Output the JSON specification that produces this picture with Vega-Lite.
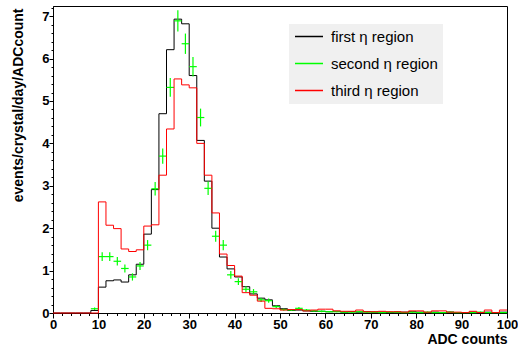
{
  "$schema": "https://vega.github.io/schema/vega-lite/v6.json",
  "width": 454,
  "height": 307,
  "autosize": {"type": "none"},
  "padding": {"left": 53, "top": 6, "right": 11, "bottom": 34},
  "background": "white",
  "config": {"view": {"stroke": "black", "strokeWidth": 1}, "font": "Liberation Sans"},
  "resolve": {"axis": {"x": "independent", "y": "independent"}},
  "datasets": {
    "black": [
      {"x":0,"y":0},{"x":1.667,"y":0},{"x":3.333,"y":0},{"x":5,"y":0},{"x":6.667,"y":0},{"x":8.333,"y":0.06},
      {"x":10,"y":0.61},{"x":11.667,"y":0.76},{"x":13.333,"y":0.78},{"x":15,"y":0.73},{"x":16.667,"y":0.90},{"x":18.333,"y":1.15},
      {"x":20,"y":1.86},{"x":21.667,"y":2.91},{"x":23.333,"y":4.70},{"x":25,"y":6.21},{"x":26.667,"y":6.93},{"x":28.333,"y":6.82},
      {"x":30,"y":5.60},{"x":31.667,"y":4.07},{"x":33.333,"y":3.11},{"x":35,"y":2.00},{"x":36.667,"y":1.32},{"x":38.333,"y":1.04},
      {"x":40,"y":0.85},{"x":41.667,"y":0.62},{"x":43.333,"y":0.45},{"x":45,"y":0.35},{"x":46.667,"y":0.31},{"x":48.333,"y":0.17},
      {"x":50,"y":0.10},{"x":51.667,"y":0.06},{"x":53.333,"y":0.07},{"x":55,"y":0.05},{"x":56.667,"y":0.04},{"x":58.333,"y":0.04},
      {"x":60,"y":0.03},{"x":61.667,"y":0.04},{"x":63.333,"y":0.02},{"x":65,"y":0.03},{"x":66.667,"y":0.02},{"x":68.333,"y":0.03},
      {"x":70,"y":0.02},{"x":71.667,"y":0.02},{"x":73.333,"y":0.01},{"x":75,"y":0.02},{"x":76.667,"y":0.02},{"x":78.333,"y":0.03},
      {"x":80,"y":0.02},{"x":81.667,"y":0.01},{"x":83.333,"y":0.02},{"x":85,"y":0.01},{"x":86.667,"y":0.02},{"x":88.333,"y":0.01},
      {"x":90,"y":0.01},{"x":91.667,"y":0.02},{"x":93.333,"y":0.01},{"x":95,"y":0.02},{"x":96.667,"y":0.01},{"x":98.333,"y":0.02},
      {"x":100,"y":0.02}
    ],
    "red": [
      {"x":0,"y":0},{"x":1.667,"y":0},{"x":3.333,"y":0},{"x":5,"y":0},{"x":6.667,"y":0},{"x":8.333,"y":0},
      {"x":10,"y":2.62},{"x":11.667,"y":2.07},{"x":13.333,"y":1.99},{"x":15,"y":1.51},{"x":16.667,"y":1.45},{"x":18.333,"y":1.49},
      {"x":20,"y":2.05},{"x":21.667,"y":2.08},{"x":23.333,"y":3.25},{"x":25,"y":4.34},{"x":26.667,"y":5.52},{"x":28.333,"y":5.38},
      {"x":30,"y":5.31},{"x":31.667,"y":4.00},{"x":33.333,"y":3.25},{"x":35,"y":2.36},{"x":36.667,"y":1.39},{"x":38.333,"y":1.12},
      {"x":40,"y":0.87},{"x":41.667,"y":0.48},{"x":43.333,"y":0.42},{"x":45,"y":0.28},{"x":46.667,"y":0.11},{"x":48.333,"y":0.10},
      {"x":50,"y":0.07},{"x":51.667,"y":0.08},{"x":53.333,"y":0.08},{"x":55,"y":0.05},{"x":56.667,"y":0.07},{"x":58.333,"y":0.09},
      {"x":60,"y":0.09},{"x":61.667,"y":0.05},{"x":63.333,"y":0.04},{"x":65,"y":0.04},{"x":66.667,"y":0.07},{"x":68.333,"y":0.03},
      {"x":70,"y":0.03},{"x":71.667,"y":0.04},{"x":73.333,"y":0.03},{"x":75,"y":0.03},{"x":76.667,"y":0.02},{"x":78.333,"y":0.05},
      {"x":80,"y":0.05},{"x":81.667,"y":0.02},{"x":83.333,"y":0.05},{"x":85,"y":0.05},{"x":86.667,"y":0.02},{"x":88.333,"y":0.02},
      {"x":90,"y":0.01},{"x":91.667,"y":0.04},{"x":93.333,"y":0.01},{"x":95,"y":0.07},{"x":96.667,"y":0.01},{"x":98.333,"y":0.07},
      {"x":100,"y":0.07}
    ],
    "green": [
      {"x0":8.333,"x1":10,"xc":9.167,"y":0.10,"err":0.03},
      {"x0":10,"x1":11.667,"xc":10.833,"y":1.33,"err":0.105},
      {"x0":11.667,"x1":13.333,"xc":12.5,"y":1.33,"err":0.105},
      {"x0":13.333,"x1":15,"xc":14.167,"y":1.22,"err":0.1},
      {"x0":15,"x1":16.667,"xc":15.833,"y":1.05,"err":0.095},
      {"x0":16.667,"x1":18.333,"xc":17.5,"y":0.85,"err":0.085},
      {"x0":18.333,"x1":20,"xc":19.167,"y":1.11,"err":0.095},
      {"x0":20,"x1":21.667,"xc":20.833,"y":1.60,"err":0.12},
      {"x0":21.667,"x1":23.333,"xc":22.5,"y":2.93,"err":0.16},
      {"x0":23.333,"x1":25,"xc":24.167,"y":3.70,"err":0.18},
      {"x0":25,"x1":26.667,"xc":25.833,"y":5.32,"err":0.22},
      {"x0":26.667,"x1":28.333,"xc":27.5,"y":6.89,"err":0.25},
      {"x0":28.333,"x1":30,"xc":29.167,"y":6.35,"err":0.24},
      {"x0":30,"x1":31.667,"xc":30.833,"y":5.81,"err":0.23},
      {"x0":31.667,"x1":33.333,"xc":32.5,"y":4.61,"err":0.21},
      {"x0":33.333,"x1":35,"xc":34.167,"y":2.94,"err":0.16},
      {"x0":35,"x1":36.667,"xc":35.833,"y":1.81,"err":0.13},
      {"x0":36.667,"x1":38.333,"xc":37.5,"y":1.60,"err":0.12},
      {"x0":38.333,"x1":40,"xc":39.167,"y":0.90,"err":0.09},
      {"x0":40,"x1":41.667,"xc":40.833,"y":0.74,"err":0.08},
      {"x0":41.667,"x1":43.333,"xc":42.5,"y":0.56,"err":0.07},
      {"x0":43.333,"x1":45,"xc":44.167,"y":0.50,"err":0.065},
      {"x0":45,"x1":46.667,"xc":45.833,"y":0.31,"err":0.05},
      {"x0":46.667,"x1":48.333,"xc":47.5,"y":0.29,"err":0.05},
      {"x0":48.333,"x1":50,"xc":49.167,"y":0.15,"err":0.035},
      {"x0":50,"x1":51.667,"xc":50.833,"y":0.08,"err":0.025},
      {"x0":51.667,"x1":53.333,"xc":52.5,"y":0.07,"err":0.025},
      {"x0":53.333,"x1":55,"xc":54.167,"y":0.11,"err":0.03},
      {"x0":55,"x1":56.667,"xc":55.833,"y":0.07,"err":0.025},
      {"x0":56.667,"x1":58.333,"xc":57.5,"y":0.05,"err":0.02},
      {"x0":58.333,"x1":60,"xc":59.167,"y":0.04,"err":0.02},
      {"x0":60,"x1":61.667,"xc":60.833,"y":0.03,"err":0.015},
      {"x0":61.667,"x1":63.333,"xc":62.5,"y":0.03,"err":0.015},
      {"x0":63.333,"x1":65,"xc":64.167,"y":0.02,"err":0.015},
      {"x0":65,"x1":66.667,"xc":65.833,"y":0.02,"err":0.015},
      {"x0":66.667,"x1":68.333,"xc":67.5,"y":0.03,"err":0.015},
      {"x0":68.333,"x1":70,"xc":69.167,"y":0.02,"err":0.015},
      {"x0":70,"x1":71.667,"xc":70.833,"y":0.02,"err":0.015},
      {"x0":71.667,"x1":73.333,"xc":72.5,"y":0.01,"err":0.01},
      {"x0":73.333,"x1":75,"xc":74.167,"y":0.02,"err":0.015},
      {"x0":75,"x1":76.667,"xc":75.833,"y":0.02,"err":0.015},
      {"x0":76.667,"x1":78.333,"xc":77.5,"y":0.01,"err":0.01},
      {"x0":78.333,"x1":80,"xc":79.167,"y":0.02,"err":0.015},
      {"x0":80,"x1":81.667,"xc":80.833,"y":0.01,"err":0.01},
      {"x0":81.667,"x1":83.333,"xc":82.5,"y":0.02,"err":0.015},
      {"x0":83.333,"x1":85,"xc":84.167,"y":0.01,"err":0.01},
      {"x0":85,"x1":86.667,"xc":85.833,"y":0.01,"err":0.01},
      {"x0":86.667,"x1":88.333,"xc":87.5,"y":0.02,"err":0.015},
      {"x0":88.333,"x1":90,"xc":89.167,"y":0.01,"err":0.01},
      {"x0":90,"x1":91.667,"xc":90.833,"y":0.01,"err":0.01},
      {"x0":91.667,"x1":93.333,"xc":92.5,"y":0.01,"err":0.01},
      {"x0":93.333,"x1":95,"xc":94.167,"y":0.02,"err":0.015},
      {"x0":95,"x1":96.667,"xc":95.833,"y":0.01,"err":0.01},
      {"x0":96.667,"x1":98.333,"xc":97.5,"y":0.01,"err":0.01},
      {"x0":98.333,"x1":100,"xc":99.167,"y":0.01,"err":0.01}
    ]
  },
  "encoding": {
    "x": {
      "field": "x", "type": "quantitative", "title": "ADC counts",
      "scale": {"domain": [0, 100], "nice": false, "zero": false},
      "axis": {
        "title": "ADC counts", "orient": "bottom",
        "values": [0,10,20,30,40,50,60,70,80,90,100],
        "format": "d",
        "ticks": true, "tickSize": 5, "tickColor": "black", "tickWidth": 1, "domainColor": "black", "grid": false,
        "labelFont": "Liberation Sans", "labelFontWeight": "bold", "labelFontSize": 13, "labelColor": "black",
        "labelPadding": 0, "labelOverlap": false, "labelFlush": false,
        "titleFont": "Liberation Sans", "titleFontWeight": "bold", "titleFontSize": 14, "titleColor": "black",
        "titleX": 454, "titleY": 30, "titleAlign": "right", "titleBaseline": "alphabetic"
      }
    },
    "y": {
      "field": "y", "type": "quantitative", "title": "events/crystal/day/ADCcount",
      "scale": {"domain": [0, 7.24], "nice": false, "zero": true},
      "axis": {
        "title": "events/crystal/day/ADCcount", "orient": "left",
        "values": [0,1,2,3,4,5,6,7],
        "format": "d",
        "ticks": true, "tickSize": 4, "tickColor": "black", "tickWidth": 1, "domainColor": "black", "grid": false,
        "labelFont": "Liberation Sans", "labelFontWeight": "bold", "labelFontSize": 13, "labelColor": "black",
        "labelPadding": 0, "labelOverlap": false, "labelFlush": false,
        "titleFont": "Liberation Sans", "titleFontWeight": "bold", "titleFontSize": 14, "titleColor": "black",
        "titleX": -35, "titleY": 2, "titleAngle": -90, "titleAlign": "right", "titleBaseline": "middle"
      }
    }
  },
  "layer": [
    {
      "data": {"name": "black"},
      "mark": {"type": "line", "interpolate": "step-after", "strokeWidth": 1},
      "encoding": {
        "color": {
          "datum": "first η region", "type": "nominal",
          "scale": {"domain": ["first η region", "second η region", "third η region"], "range": ["#000000", "#00ff00", "#ff0000"]},
          "legend": {
            "orient": "none", "legendX": 236, "legendY": 18, "title": null,
            "symbolType": "stroke", "symbolSize": 784, "symbolStrokeWidth": 1.3, "symbolOpacity": 1,
            "clipHeight": 15,
            "labelFont": "Liberation Sans", "labelFontSize": 15, "labelColor": "black", "labelOffset": 7,
            "fillColor": "#f0f0f0", "padding": 5, "rowPadding": 11
          }
        }
      }
    },
    {
      "data": {"name": "green"},
      "mark": {"type": "rule", "strokeWidth": 1.2},
      "encoding": {
        "x": {
          "field": "x0", "type": "quantitative",
          "axis": {
            "orient": "bottom", "title": null, "labels": false, "domain": false, "grid": false,
            "values": [2,4,6,8,12,14,16,18,22,24,26,28,32,34,36,38,42,44,46,48,52,54,56,58,62,64,66,68,72,74,76,78,82,84,86,88,92,94,96,98],
            "ticks": true, "tickSize": 2.5, "tickColor": "black", "tickWidth": 1
          }
        },
        "x2": {"field": "x1"},
        "y": {
          "field": "y", "type": "quantitative",
          "axis": {
            "orient": "left", "title": null, "labels": false, "domain": false, "grid": false,
            "values": [0.2,0.4,0.6,0.8,1.2,1.4,1.6,1.8,2.2,2.4,2.6,2.8,3.2,3.4,3.6,3.8,4.2,4.4,4.6,4.8,5.2,5.4,5.6,5.8,6.2,6.4,6.6,6.8,7.2],
            "ticks": true, "tickSize": 2, "tickColor": "black", "tickWidth": 1
          }
        },
        "color": {"datum": "second η region", "type": "nominal"}
      }
    },
    {
      "data": {"name": "green"},
      "mark": {"type": "errorbar", "color": "#00ff00", "thickness": 1.2},
      "encoding": {
        "x": {"field": "xc", "type": "quantitative", "axis": null},
        "y": {"field": "y", "type": "quantitative", "axis": null},
        "yError": {"field": "err"}
      }
    },
    {
      "data": {"name": "red"},
      "mark": {"type": "line", "interpolate": "step-after", "strokeWidth": 1},
      "encoding": {
        "x": {"field": "x", "type": "quantitative", "axis": null},
        "y": {"field": "y", "type": "quantitative", "axis": null},
        "color": {"datum": "third η region", "type": "nominal"}
      }
    }
  ]
}
